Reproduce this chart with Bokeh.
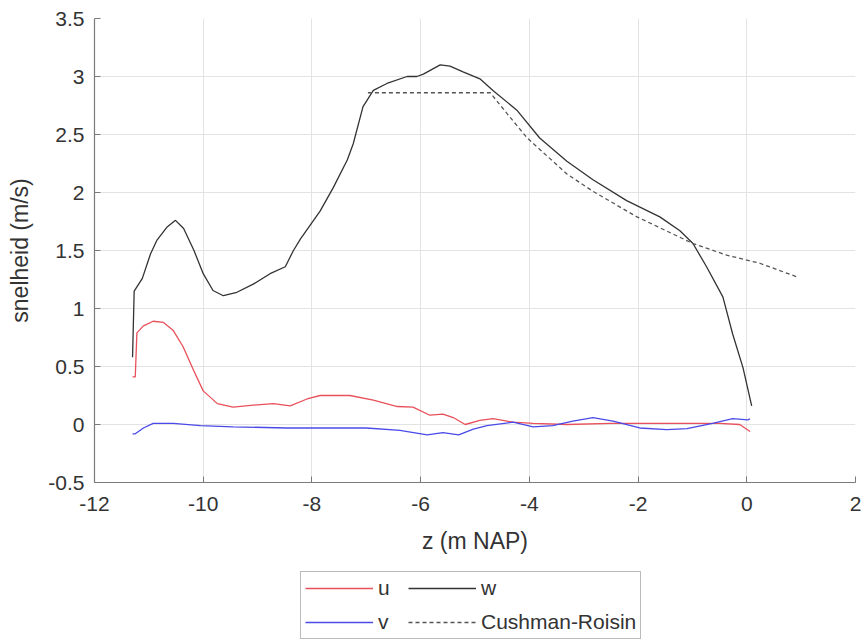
import numpy as np
from bokeh.plotting import figure
from bokeh.layouts import column
from bokeh.models import (FixedTicker, CustomJSTickFormatter, Legend, LegendItem,
                          Range1d)
from bokeh.embed import file_html
from bokeh.resources import INLINE

# ---- data ----
w_z = [-11.30, -11.27, -11.12, -10.97, -10.85, -10.67, -10.51, -10.36, -10.17, -10.00,
       -9.82, -9.63, -9.38, -9.08, -8.77, -8.49, -8.34, -8.21, -7.85, -7.61, -7.35,
       -7.24, -7.06, -6.87, -6.62, -6.25, -6.07, -5.95, -5.64, -5.46, -5.22, -4.91,
       -4.67, -4.23, -3.81, -3.31, -2.83, -2.21, -1.60, -1.23, -0.99, -0.74, -0.44,
       -0.26, -0.07, 0.09]
w = [0.58, 1.15, 1.26, 1.47, 1.59, 1.70, 1.76, 1.69, 1.50, 1.30,
     1.155, 1.11, 1.14, 1.21, 1.30, 1.36, 1.50, 1.60, 1.84, 2.04, 2.28,
     2.42, 2.74, 2.88, 2.94, 3.00, 3.00, 3.02, 3.10, 3.09, 3.04, 2.98,
     2.88, 2.71, 2.47, 2.27, 2.11, 1.93, 1.79, 1.67, 1.56, 1.36, 1.10,
     0.78, 0.49, 0.16]

cr_z = [-6.97, -4.72, -4.41, -4.04, -3.31, -2.83, -2.02, -0.99, -0.37, 0.24, 0.94]
cr = [2.86, 2.86, 2.68, 2.47, 2.16, 2.01, 1.79, 1.56, 1.46, 1.39, 1.27]

u_z = [-11.30, -11.25, -11.22, -11.10, -10.92, -10.73, -10.55, -10.37, -10.18, -10.00,
       -9.74, -9.45, -9.01, -8.71, -8.40, -8.09, -7.85, -7.30, -6.87, -6.43, -6.14,
       -5.83, -5.59, -5.40, -5.18, -4.91, -4.67, -4.30, -3.93, -3.31, -2.50, -1.50,
       -0.50, -0.13, 0.06]
u = [0.41, 0.41, 0.79, 0.85, 0.89, 0.88, 0.81, 0.67, 0.47, 0.29,
     0.18, 0.15, 0.17, 0.18, 0.16, 0.22, 0.25, 0.25, 0.21, 0.155, 0.15,
     0.08, 0.09, 0.06, 0.00, 0.035, 0.05, 0.02, 0.01, 0.00, 0.01, 0.01,
     0.01, 0.00, -0.06]

v_z = [-11.30, -11.25, -11.10, -10.92, -10.55, -10.05, -9.45, -8.46, -7.00, -6.38,
       -5.88, -5.59, -5.30, -5.03, -4.78, -4.30, -3.93, -3.57, -3.20, -2.83, -2.46,
       -1.97, -1.47, -1.10, -0.63, -0.26, 0.02, 0.06]
v = [-0.08, -0.08, -0.03, 0.01, 0.01, -0.01, -0.02, -0.03, -0.03, -0.05,
     -0.09, -0.07, -0.09, -0.04, -0.01, 0.02, -0.02, -0.01, 0.03, 0.06, 0.03,
     -0.03, -0.045, -0.035, 0.01, 0.05, 0.04, 0.05]

x_ticks = [-12, -10, -8, -6, -4, -2, 0, 2]
y_ticks = [-0.5, 0, 0.5, 1, 1.5, 2, 2.5, 3, 3.5]

labels = ["u", "v", "w", "Cushman-Roisin"]
colors = ["#e8505a", "#4a4ae8", "#333333", "#555555"]

FONT = "Liberation Sans"

p = figure(width=861, height=570, output_backend="svg", toolbar_location=None,
           x_range=Range1d(-12, 2), y_range=Range1d(-0.5, 3.5),
           x_axis_label="z (m NAP)", y_axis_label="snelheid (m/s)",
           min_border_left=94, min_border_right=6, min_border_top=18,
           min_border_bottom=88)
p.outline_line_color = None
p.background_fill_color = "white"
p.border_fill_color = "white"

fmt = "return tick.toString();"
p.xaxis.ticker = FixedTicker(ticks=x_ticks)
p.yaxis.ticker = FixedTicker(ticks=y_ticks)
p.xaxis.formatter = CustomJSTickFormatter(code=fmt)
p.yaxis.formatter = CustomJSTickFormatter(code=fmt)

for ax in (p.xaxis, p.yaxis):
    ax.axis_line_color = "#7a7a7a"
    ax.axis_line_width = 1.2
    ax.major_tick_line_color = "#7a7a7a"
    ax.major_tick_in = 6
    ax.major_tick_out = 0
    ax.minor_tick_line_color = None
    ax.major_label_text_font = FONT
    ax.major_label_text_font_size = "21px"
    ax.major_label_text_color = "#333333"
    ax.axis_label_text_font = FONT
    ax.axis_label_text_font_size = "23px"
    ax.axis_label_text_font_style = "normal"
    ax.axis_label_text_color = "#333333"

p.xaxis.major_label_standoff = 14
p.xaxis.axis_label_standoff = 14
p.yaxis.major_label_standoff = 10
p.yaxis.axis_label_standoff = 12

p.xgrid.grid_line_color = "#e3e3e3"
p.ygrid.grid_line_color = "#e3e3e3"
p.xgrid.grid_line_width = 1
p.ygrid.grid_line_width = 1

p.line(u_z, u, line_color=colors[0], line_width=1.3)
p.line(v_z, v, line_color=colors[1], line_width=1.3)
p.line(w_z, w, line_color=colors[2], line_width=1.3)
p.line(cr_z, cr, line_color=colors[3], line_width=1.3, line_dash="4 3")

# ---- legend strip below the plot (MATLAB-style legend under the axes) ----
# legend proxies: a single NaN sample each, so nothing is drawn in the strip
proxy = np.array([np.nan])
lg = figure(width=861, height=69, output_backend="svg", toolbar_location=None,
            x_range=Range1d(0, 1), y_range=Range1d(0, 1),
            x_axis_location=None, y_axis_location=None,
            min_border=0)
lg.outline_line_color = None
lg.grid.visible = False
lg_u = lg.line(x=proxy, y=proxy, line_color=colors[0], line_width=1.3)
lg_v = lg.line(x=proxy, y=proxy, line_color=colors[1], line_width=1.3)
lg_w = lg.line(x=proxy, y=proxy, line_color=colors[2], line_width=1.3)
lg_cr = lg.line(x=proxy, y=proxy, line_color=colors[3], line_width=1.3, line_dash="4 3")

legend = Legend(items=[LegendItem(label=labels[0], renderers=[lg_u]),
                       LegendItem(label=labels[1], renderers=[lg_v]),
                       LegendItem(label=labels[2], renderers=[lg_w]),
                       LegendItem(label=labels[3], renderers=[lg_cr])],
                orientation="vertical", nrows=2, location=(206, 0))
legend.label_text_font = FONT
legend.label_text_font_size = "21px"
legend.label_text_color = "#333333"
legend.glyph_width = 68
legend.glyph_height = 24
legend.label_height = 24
legend.label_standoff = 5
legend.spacing = 10
legend.padding = 4
legend.margin = 0
legend.border_line_color = "#777777"
legend.border_line_width = 1.2
legend.background_fill_color = "white"
lg.add_layout(legend, "center")

layout = column(p, lg, spacing=0)
open("out.html", "w").write(file_html(layout, INLINE))
